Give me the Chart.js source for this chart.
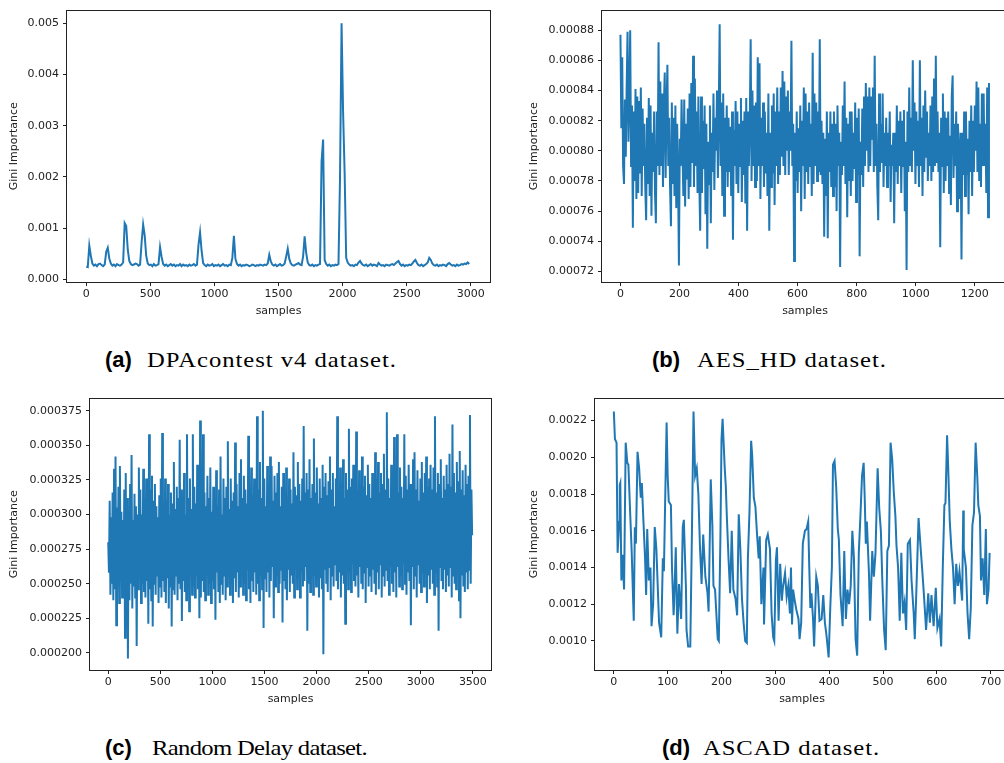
<!DOCTYPE html>
<html>
<head>
<meta charset="utf-8">
<script src="https://cdn.jsdelivr.net/npm/chart.js@4.4.0/dist/chart.umd.min.js"></script>
<style>
  html, body { margin:0; padding:0; background:#fff; width:1004px; height:763px; overflow:hidden; position:relative; }
  canvas { position:absolute; }
  .lab { position:absolute; white-space:nowrap; color:#000; line-height:26px; }
  .lab.b { font-family:"Liberation Sans", sans-serif; font-weight:bold; font-size:22px; }
  .lab.s { font-family:"Liberation Serif", serif; font-size:22px; transform-origin:left center; }
</style>
</head>
<body>
<canvas id="chartA" width="500" height="318" style="left:0;top:0"></canvas>
<canvas id="chartB" width="500" height="318" style="left:520px;top:0"></canvas>
<canvas id="chartC" width="500" height="318" style="left:0;top:388px"></canvas>
<canvas id="chartD" width="500" height="318" style="left:520px;top:388px"></canvas>

<div class="lab b" style="left:105px;top:347px">(a)</div>
<div class="lab s" data-w="250" style="left:147px;top:347px">DPAcontest v4 dataset.</div>
<div class="lab b" style="left:652px;top:347px">(b)</div>
<div class="lab s" data-w="190" style="left:697px;top:347px">AES_HD dataset.</div>
<div class="lab b" style="left:105px;top:735px">(c)</div>
<div class="lab s" data-w="215" style="left:152px;top:735px">Random Delay dataset.</div>
<div class="lab b" style="left:662px;top:735px">(d)</div>
<div class="lab s" data-w="177" style="left:703px;top:735px">ASCAD dataset.</div>

<script>
// (a) DPAcontest v4: one value every 12 samples, in units of 1e-5
var stepA = 12
var giniA = [
    25, 24, 66, 46, 31, 27, 29, 26, 30, 31,
    28, 26, 29, 54, 62, 41, 31, 27, 29, 26,
    30, 28, 27, 29, 33, 110, 104, 58, 36, 30,
    28, 29, 31, 30, 27, 29, 72, 107, 86, 46,
    31, 28, 29, 26, 30, 27, 28, 30, 63, 44,
    30, 27, 29, 26, 28, 30, 27, 29, 26, 28,
    27, 30, 26, 29, 27, 28, 26, 29, 27, 28,
    30, 27, 29, 68, 92, 56, 32, 28, 26, 29,
    27, 28, 30, 26, 28, 27, 29, 26, 28, 30,
    27, 28, 26, 29, 28, 42, 85, 40, 30, 27,
    29, 26, 28, 27, 29, 28, 26, 27, 29, 28,
    26, 28, 27, 29, 28, 27, 29, 28, 31, 48,
    35, 29, 27, 29, 26, 28, 30, 27, 28, 31,
    45, 60, 40, 31, 28, 27, 29, 30, 32, 29,
    28, 45, 84, 52, 33, 28, 27, 29, 26, 28,
    27, 29, 30, 230, 273, 38, 30, 27, 29, 26,
    28, 27, 29, 28, 30, 200, 500, 325, 207, 42,
    33, 29, 27, 28, 26, 29, 28, 33, 36, 31,
    28, 27, 29, 26, 28, 30, 27, 29, 28, 26,
    32, 29, 27, 28, 26, 29, 28, 27, 29, 30,
    28, 31, 34, 36, 30, 27, 29, 26, 28, 27,
    29, 28, 31, 35, 38, 32, 28, 27, 29, 26,
    28, 30, 33, 42, 38, 31, 28, 27, 29, 26,
    28, 27, 29, 28, 26, 30, 32, 29, 27, 28,
    26, 29, 27, 28, 30, 29, 31, 30, 33, 30
]
var yTicksA = [0, 0.001, 0.002, 0.003, 0.004, 0.005]
var xTicksA = [0, 500, 1000, 1500, 2000, 2500, 3000]

// (b) AES_HD: one value every 3 samples, in units of 1e-6
var stepB = 3
var giniB = [
    877, 815, 862, 790, 778, 834, 796, 842, 879, 806,
    835, 880, 790, 830, 749, 826, 780, 841, 768, 836,
    772, 833, 785, 842, 770, 828, 790, 818, 776, 754,
    822, 778, 835, 770, 830, 757, 812, 786, 826, 772,
    752, 826, 790, 872, 784, 846, 790, 838, 776, 830,
    852, 782, 828, 857, 790, 822, 776, 750, 832, 778,
    822, 770, 830, 762, 818, 785, 724, 808, 790, 834,
    800, 770, 834, 763, 818, 781, 828, 768, 838, 776,
    845, 792, 863, 776, 848, 790, 826, 772, 836, 780,
    747, 836, 772, 820, 788, 830, 758, 818, 735, 806,
    778, 830, 752, 812, 786, 838, 774, 822, 800, 840,
    782, 828, 884, 790, 832, 770, 838, 757, 822, 786,
    830, 776, 822, 786, 816, 770, 826, 741, 814, 790,
    833, 778, 826, 772, 818, 790, 835, 766, 820, 784,
    826, 765, 835, 747, 826, 790, 820, 874, 780, 840,
    790, 830, 776, 832, 780, 862, 790, 858, 768, 822,
    790, 832, 776, 826, 785, 812, 770, 838, 747, 812,
    776, 830, 785, 838, 764, 826, 790, 842, 778, 826,
    784, 842, 796, 853, 790, 846, 784, 836, 800, 840,
    784, 826, 800, 873, 790, 818, 727, 812, 780, 826,
    772, 815, 786, 830, 760, 820, 790, 842, 768, 838,
    786, 826, 778, 832, 790, 818, 770, 865, 778, 838,
    790, 832, 780, 826, 786, 874, 784, 820, 778, 812,
    743, 808, 770, 826, 742, 812, 786, 826, 776, 818,
    770, 826, 776, 818, 760, 830, 790, 812, 723, 806,
    784, 830, 790, 846, 778, 822, 756, 818, 780, 826,
    770, 826, 780, 812, 788, 832, 766, 822, 784, 828,
    730, 806, 784, 828, 776, 836, 790, 845, 800, 836,
    786, 842, 790, 836, 808, 842, 786, 863, 790, 818,
    776, 754, 838, 786, 818, 792, 838, 776, 812, 790,
    822, 776, 812, 790, 826, 766, 804, 790, 812, 752,
    812, 786, 830, 778, 820, 790, 826, 772, 820, 790,
    827, 760, 806, 721, 826, 786, 842, 790, 822, 786,
    860, 800, 832, 778, 826, 790, 820, 776, 860, 790,
    822, 770, 830, 786, 840, 796, 826, 780, 812, 790,
    830, 780, 836, 786, 848, 790, 863, 792, 826, 786,
    812, 736, 822, 790, 838, 772, 826, 780, 822, 790,
    826, 772, 810, 764, 836, 850, 782, 818, 790, 826,
    760, 818, 800, 768, 812, 728, 812, 784, 826, 770,
    826, 784, 808, 758, 820, 786, 830, 770, 820, 786,
    830, 800, 846, 786, 842, 780, 818, 776, 838, 790,
    838, 790, 818, 772, 842, 756, 845
]
var yTicksB = [0.00072, 0.00074, 0.00076, 0.00078, 0.00080, 0.00082, 0.00084, 0.00086, 0.00088]
var xTicksB = [0, 200, 400, 600, 800, 1000, 1200]

// (c) Random Delay: one value every 7 samples, in units of 1e-6
var stepC = 7
var giniC = [
    280, 258, 310, 242, 298, 250, 316, 238, 333, 246,
    342, 220, 305, 248, 320, 236, 335, 252, 302, 240,
    296, 244, 318, 211, 330, 223, 312, 196, 300, 238,
    322, 250, 343, 232, 296, 248, 315, 240, 306, 205,
    300, 246, 334, 254, 318, 236, 300, 250, 333, 244,
    312, 240, 326, 252, 304, 221, 358, 246, 318, 238,
    328, 219, 310, 250, 322, 242, 306, 256, 298, 236,
    314, 248, 326, 240, 359, 252, 302, 244, 326, 236,
    310, 254, 322, 232, 300, 248, 316, 219, 308, 246,
    338, 242, 304, 256, 320, 238, 312, 250, 354, 246,
    318, 223, 306, 252, 330, 244, 300, 238, 358, 250,
    312, 230, 326, 258, 304, 242, 358, 248, 320, 240,
    308, 256, 336, 246, 314, 225, 368, 240, 322, 252,
    358, 244, 316, 238, 306, 256, 328, 242, 312, 250,
    334, 236, 302, 252, 320, 246, 310, 224, 332, 258,
    306, 244, 318, 236, 342, 250, 300, 242, 326, 256,
    312, 238, 320, 248, 353, 256, 304, 242, 326, 250,
    310, 236, 316, 254, 352, 244, 322, 258, 306, 240,
    330, 248, 340, 256, 312, 242, 328, 250, 318, 238,
    308, 260, 357, 246, 320, 236, 334, 252, 314, 244,
    326, 258, 304, 242, 371, 250, 318, 238, 338, 256,
    312, 246, 375, 218, 326, 254, 306, 244, 335, 258,
    320, 240, 342, 252, 335, 262, 310, 225, 328, 248,
    316, 256, 330, 244, 338, 250, 306, 260, 320, 222,
    330, 252, 316, 246, 334, 238, 312, 260, 326, 244,
    318, 256, 308, 250, 345, 240, 320, 262, 314, 246,
    338, 254, 322, 240, 310, 258, 326, 248, 364, 252,
    316, 262, 330, 216, 318, 250, 340, 244, 312, 258,
    322, 242, 355, 256, 316, 248, 334, 262, 308, 240,
    326, 254, 312, 246, 336, 199, 320, 260, 330, 250,
    314, 244, 324, 262, 342, 238, 318, 256, 330, 248,
    306, 264, 326, 252, 371, 246, 316, 258, 334, 240,
    322, 256, 340, 250, 312, 221, 330, 262, 318, 246,
    362, 258, 320, 244, 326, 264, 336, 252, 314, 248,
    360, 256, 318, 240, 332, 262, 310, 250, 342, 246,
    320, 258, 328, 236, 314, 262, 336, 248, 322, 256,
    312, 244, 330, 260, 318, 250, 345, 242, 326, 258,
    338, 246, 316, 264, 330, 240, 322, 256, 344, 248,
    318, 260, 374, 252, 326, 242, 312, 262, 336, 250,
    322, 244, 356, 258, 330, 240, 358, 262, 316, 248,
    334, 256, 320, 246, 312, 264, 358, 250, 328, 242,
    318, 258, 336, 252, 322, 220, 314, 262, 340, 246,
    345, 256, 318, 240, 332, 264, 310, 250, 326, 244,
    338, 258, 316, 248, 330, 262, 342, 236, 320, 256,
    326, 246, 336, 260, 318, 250, 334, 242, 371, 258,
    316, 248, 330, 216, 322, 262, 340, 252, 312, 246,
    328, 260, 318, 244, 336, 256, 322, 248, 344, 262,
    320, 240, 365, 256, 330, 250, 316, 246, 338, 262,
    324, 238, 346, 225, 318, 256, 332, 248, 314, 244,
    336, 258, 322, 246, 328, 260, 372, 250, 318, 285
]
var yTicksC = [0.0002, 0.000225, 0.00025, 0.000275, 0.0003, 0.000325, 0.00035, 0.000375]
var xTicksC = [0, 500, 1000, 1500, 2000, 2500, 3000, 3500]

// (d) ASCAD: sample positions and values (units of 1e-5)
var samplesD = [
    0, 2, 5, 7, 10, 11, 12, 14, 16, 19, 22, 25, 27, 30, 33, 37, 39, 41, 44, 47,
    50, 52, 55, 58, 60, 62, 65, 68, 70, 73, 76, 79, 84, 88, 91, 93, 96, 98, 100, 102,
    106, 108, 111, 112, 115, 118, 121, 125, 128, 130, 134, 135, 138, 142, 145, 148, 151, 154, 157, 160,
    163, 166, 170, 174, 176, 180, 183, 185, 188, 193, 195, 198, 200, 202, 206, 208, 210, 213, 216, 219,
    222, 226, 229, 232, 235, 238, 241, 244, 247, 249, 252, 255, 257, 260, 263, 266, 269, 271, 274, 278,
    279, 283, 286, 290, 293, 296, 298, 301, 303, 306, 309, 312, 314, 318, 321, 324, 327, 329, 331, 333,
    336, 339, 343, 345, 348, 351, 355, 358, 361, 363, 365, 367, 370, 372, 376, 379, 382, 386, 389, 392,
    395, 399, 402, 405, 407, 410, 413, 416, 418, 421, 425, 428, 431, 434, 437, 440, 443, 446, 449, 452,
    455, 458, 461, 464, 466, 468, 470, 474, 476, 480, 483, 486, 490, 493, 496, 499, 502, 505, 508, 511,
    514, 517, 520, 523, 525, 528, 531, 534, 537, 540, 543, 546, 550, 553, 557, 559, 562, 566, 570, 573,
    576, 580, 584, 587, 590, 594, 598, 601, 605, 608, 611, 614, 616, 619, 621, 624, 627, 630, 633, 636,
    639, 642, 647, 649, 650, 654, 657, 660, 663, 666, 669, 672, 675, 677, 680, 682, 685, 688, 691, 693,
    696, 698
]
var giniD = [
    225, 210, 208, 148, 165, 185, 186, 133, 147, 128, 208, 197, 196, 172, 150, 111, 162, 153, 203, 194,
    178, 186, 165, 145, 125, 161, 133, 140, 108, 120, 162, 150, 110, 102, 145, 138, 187, 219, 190, 176,
    174, 140, 114, 120, 151, 104, 131, 112, 162, 166, 128, 106, 97, 97, 158, 225, 190, 194, 180, 151,
    131, 158, 135, 126, 116, 188, 163, 130, 128, 101, 100, 158, 210, 221, 194, 184, 167, 145, 126, 160,
    128, 123, 114, 169, 150, 123, 110, 100, 99, 145, 171, 209, 201, 178, 173, 158, 145, 157, 120, 140,
    109, 155, 158, 150, 115, 102, 100, 144, 151, 111, 142, 122, 129, 137, 124, 130, 115, 140, 109, 128,
    122, 117, 112, 101, 110, 153, 160, 161, 165, 140, 118, 126, 112, 97, 135, 130, 111, 112, 125, 110,
    103, 91, 118, 140, 196, 198, 184, 161, 155, 125, 108, 149, 112, 128, 120, 130, 160, 145, 101, 92,
    148, 168, 190, 197, 178, 153, 165, 136, 111, 149, 135, 148, 194, 172, 160, 130, 106, 95, 149, 152,
    208, 199, 181, 168, 152, 140, 111, 148, 115, 121, 106, 153, 155, 133, 115, 101, 128, 167, 150, 138,
    125, 106, 126, 110, 125, 108, 129, 107, 112, 97, 140, 174, 175, 212, 195, 165, 150, 140, 120, 142,
    130, 138, 122, 171, 150, 140, 115, 101, 118, 163, 170, 208, 190, 174, 168, 133, 145, 125, 161, 120,
    128, 148
]
var yTicksD = [0.0010, 0.0012, 0.0014, 0.0016, 0.0018, 0.0020, 0.0022]
var xTicksD = [0, 100, 200, 300, 400, 500, 600, 700]

var lineColor = "#1f77b4"
var inkColor = "#222"
var tickFont = { family: "DejaVu Sans", size: 11 }

var framePlugin = {
    id: "frame",
    afterDraw: function (chart) {
        var a = chart.chartArea
        var ctx = chart.ctx
        ctx.save()
        ctx.strokeStyle = inkColor
        ctx.lineWidth = 1
        ctx.strokeRect(Math.round(a.left) - 0.5, Math.round(a.top) - 0.5,
            Math.round(a.right - a.left) + 1, Math.round(a.bottom - a.top) + 1)
        ctx.restore()
    }
}

function makePanel(id, cfg) {
    return new Chart(document.getElementById(id), {
        type: "line",
        data: {
            datasets: [{
                data: cfg.points,
                borderColor: lineColor,
                borderWidth: 2,
                pointRadius: 0,
                tension: 0,
                fill: false
            }]
        },
        options: {
            responsive: false,
            animation: false,
            devicePixelRatio: 1,
            layout: { padding: { top: cfg.top, right: cfg.right, left: 0, bottom: 0 } },
            plugins: { legend: { display: false }, tooltip: { enabled: false } },
            scales: {
                x: {
                    type: "linear",
                    min: cfg.xMin,
                    max: cfg.xMax,
                    afterFit: function (s) { s.height = 36 },
                    afterBuildTicks: function (s) { s.ticks = cfg.xTicks.map(function (v) { return { value: v } }) },
                    ticks: {
                        font: tickFont, color: inkColor, padding: 2, autoSkip: false, maxRotation: 0,
                        callback: function (v) { return String(v) }
                    },
                    grid: { display: true, drawOnChartArea: false, drawTicks: true, tickLength: 4, color: inkColor },
                    border: { display: false },
                    title: { display: true, text: "samples", font: tickFont, color: inkColor, padding: { top: 0, bottom: 0 } }
                },
                y: {
                    type: "linear",
                    min: cfg.yMin,
                    max: cfg.yMax,
                    afterFit: function (s) { s.width = cfg.yWidth },
                    afterBuildTicks: function (s) { s.ticks = cfg.yTicks.map(function (v) { return { value: v } }) },
                    ticks: {
                        font: tickFont, color: inkColor, padding: 4, autoSkip: false,
                        callback: function (v) { return v.toFixed(cfg.digits) }
                    },
                    grid: { display: true, drawOnChartArea: false, drawTicks: true, tickLength: 4, color: inkColor },
                    border: { display: false },
                    title: { display: true, text: "Gini Importance", font: tickFont, color: inkColor, padding: { top: 8, bottom: 0 } }
                }
            }
        },
        plugins: [framePlugin]
    })
}

function stepped(values, step, unit) {
    return values.map(function (v, i) { return { x: i * step, y: v * unit } })
}

makePanel("chartA", {
    points: stepped(giniA, stepA, 1e-5),
    xMin: -150, xMax: 3150, yMin: -0.00005, yMax: 0.005245,
    xTicks: xTicksA, yTicks: yTicksA, digits: 3,
    yWidth: 67, top: 7, right: 10
})
makePanel("chartB", {
    points: stepped(giniB, stepB, 1e-6),
    xMin: -62.5, xMax: 1312.5, yMin: 0.000713, yMax: 0.000893,
    xTicks: xTicksB, yTicks: yTicksB, digits: 5,
    yWidth: 82, top: 7, right: 12
})
makePanel("chartC", {
    points: stepped(giniC, stepC, 1e-6),
    xMin: -175, xMax: 3674, yMin: 0.0001876, yMax: 0.0003838,
    xTicks: xTicksC, yTicks: yTicksC, digits: 6,
    yWidth: 90, top: 8, right: 9
})
makePanel("chartD", {
    points: samplesD.map(function (s, i) { return { x: s, y: giniD[i] * 1e-5 } }),
    xMin: -35, xMax: 734, yMin: 0.000842, yMax: 0.00232,
    xTicks: xTicksD, yTicks: yTicksD, digits: 4,
    yWidth: 75, top: 8, right: 11
})

// widen the serif caption text to the width it has in the figure
document.querySelectorAll(".lab.s").forEach(function (el) {
    var w = el.getBoundingClientRect().width
    var n = el.textContent.length
    var sx = 1.12
    var extra = parseFloat(el.dataset.w) - w * sx
    el.style.transform = "scaleX(" + sx + ")"
    el.style.letterSpacing = (extra / sx / n) + "px"
})
</script>
</body>
</html>
